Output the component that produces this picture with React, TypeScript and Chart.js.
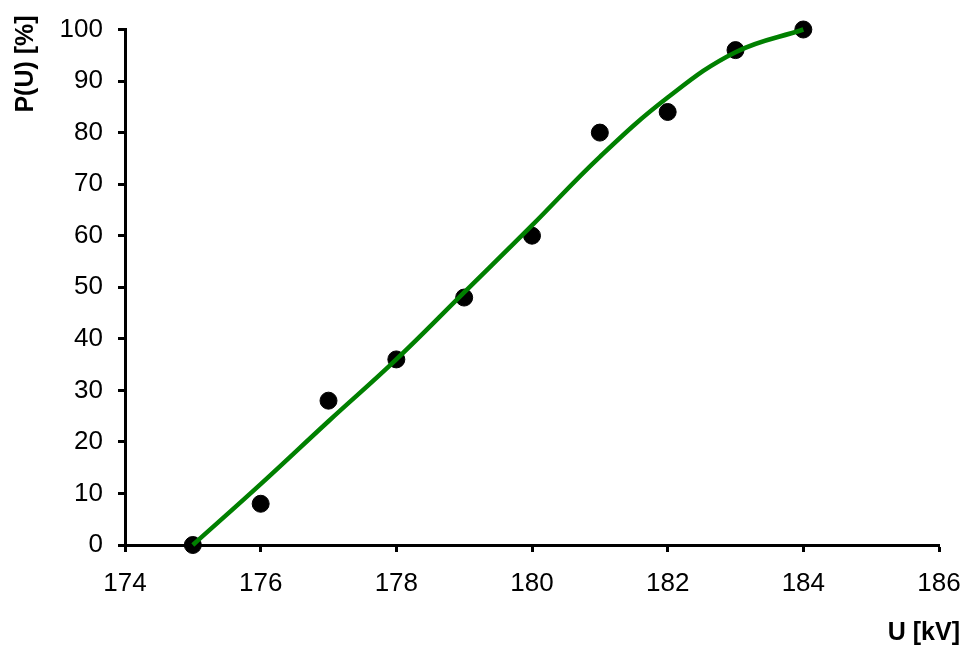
import React, { useEffect, useRef } from "react";
import { Chart, registerables } from "chart.js";

Chart.register(...registerables);

const measuredU = [175, 176, 177, 178, 179, 180, 181, 182, 183, 184];
const measuredP = [0, 8, 28, 36, 48, 60, 80, 84, 96, 100];

const fitU = [175, 176, 177, 178, 179, 180, 181, 182, 183, 184];
const fitP = [0, 11.8, 24, 36, 49, 62, 75.3, 86.8, 95.6, 100];

const xTicks = [174, 176, 178, 180, 182, 184, 186];
const yTicks = [0, 10, 20, 30, 40, 50, 60, 70, 80, 90, 100];

const xTitle = "U [kV]";
const yTitle = "P(U) [%]";

const FONT = "'Liberation Sans', Arial, sans-serif";

export default function App() {
  const ref = useRef<HTMLCanvasElement | null>(null);

  useEffect(() => {
    const canvas = ref.current;
    if (!canvas) return;

    const titlesPlugin = {
      id: "titles",
      afterDraw(chart: any) {
        const ctx = chart.ctx;
        ctx.save();
        ctx.fillStyle = "#000";
        ctx.font = `bold 25px ${FONT}`;
        ctx.textAlign = "right";
        ctx.textBaseline = "alphabetic";
        ctx.fillText(xTitle, 960, 640);
        ctx.translate(33, 64);
        ctx.rotate(-Math.PI / 2);
        ctx.textAlign = "center";
        ctx.fillText(yTitle, 0, 0);
        ctx.restore();
      },
    };

    const chart = new Chart(canvas, {
      type: "scatter",
      data: {
        datasets: [
          {
            type: "line",
            label: "fit",
            data: fitU.map((u, i) => ({ x: u, y: fitP[i] })),
            borderColor: "#008000",
            borderWidth: 4.5,
            pointRadius: 0,
            fill: false,
            clip: false,
            tension: 0.4,
          } as any,
          {
            type: "scatter",
            label: "measured",
            data: measuredU.map((u, i) => ({ x: u, y: measuredP[i] })),
            backgroundColor: "#000",
            borderColor: "#000",
            borderWidth: 1,
            pointRadius: 8.5,
            clip: false,
          } as any,
        ],
      },
      options: {
        responsive: false,
        animation: false,
        layout: { padding: { top: 29.5, right: 26, left: 0, bottom: 0 } },
        plugins: {
          legend: { display: false },
          tooltip: { enabled: false },
        },
        scales: {
          x: {
            type: "linear",
            min: 174,
            max: 186,
            afterFit(scale: any) {
              scale.height = 105;
              scale.paddingLeft = 0;
              scale.paddingRight = 0;
            },
            afterBuildTicks(scale: any) {
              scale.ticks = xTicks.map((v) => ({ value: v }));
            },
            grid: {
              drawOnChartArea: false,
              drawTicks: true,
              tickLength: 7,
              tickWidth: 3,
              tickColor: "#000",
            },
            border: { color: "#000", width: 3 },
            ticks: {
              color: "#000",
              font: { family: FONT, size: 26 },
              padding: 16,
              maxRotation: 0,
              autoSkip: false,
            },
          },
          y: {
            type: "linear",
            min: 0,
            max: 100,
            afterFit(scale: any) {
              scale.width = 125;
              scale.paddingTop = 0;
              scale.paddingBottom = 0;
            },
            afterBuildTicks(scale: any) {
              scale.ticks = yTicks.map((v) => ({ value: v }));
            },
            grid: {
              drawOnChartArea: false,
              drawTicks: true,
              tickLength: 7,
              tickWidth: 3,
              tickColor: "#000",
            },
            border: { color: "#000", width: 3 },
            ticks: {
              color: "#000",
              font: { family: FONT, size: 26 },
              padding: 15,
              autoSkip: false,
            },
          },
        },
      },
      plugins: [titlesPlugin],
    });

    return () => chart.destroy();
  }, []);

  return (
    <div style={{ position: "fixed", left: 0, top: 0, width: 965, height: 650, background: "#fff" }}>
      <canvas ref={ref} width={965} height={650} style={{ display: "block" }} />
    </div>
  );
}
